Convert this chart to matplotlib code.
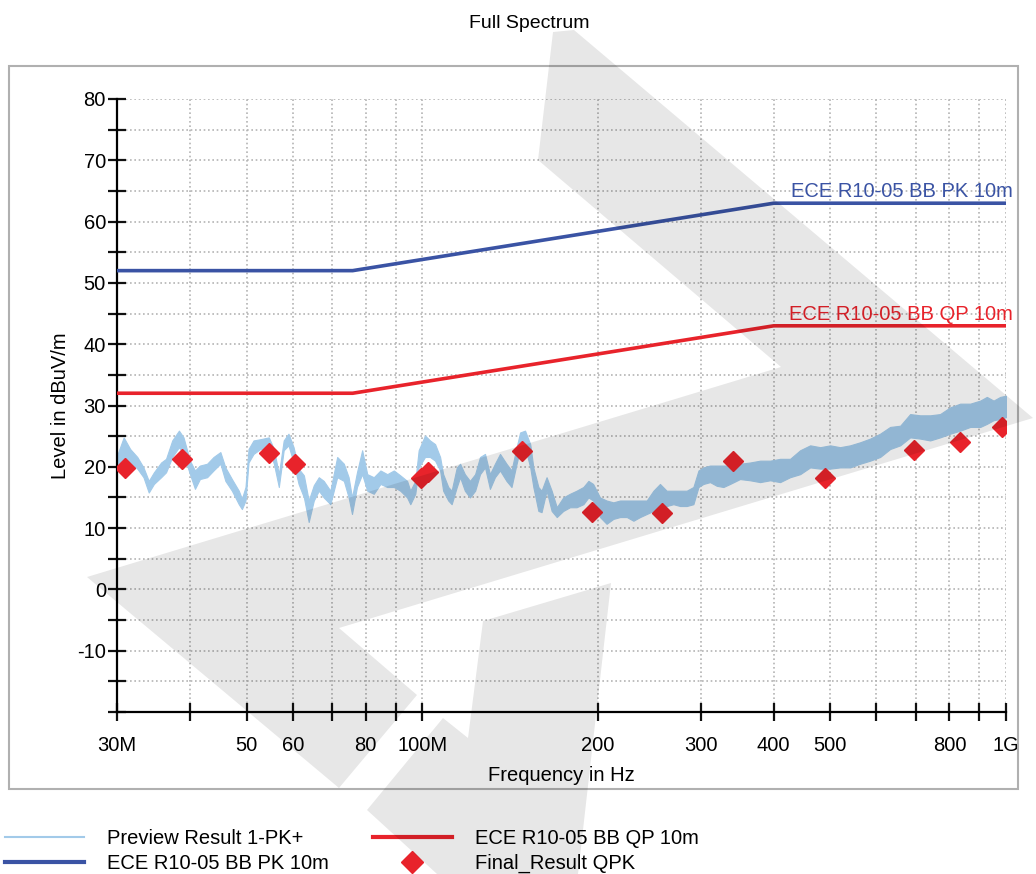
import matplotlib
matplotlib.use("Agg")
import matplotlib.pyplot as plt
from matplotlib.patches import Polygon, Rectangle
from matplotlib.lines import Line2D
from matplotlib.ticker import FixedLocator, NullLocator

plt.rcParams['font.family'] = ['Liberation Sans', 'DejaVu Sans']

# preview trace (PK+), envelope: MHz, dBuV/m
freq = [30.0, 30.8, 31.6, 32.5, 33.3, 34.0, 34.7, 35.7, 36.4, 37.3, 38.3, 39.0,
        40.0, 40.8, 41.6, 42.8, 43.9, 45.1, 46.0, 47.2, 48.5, 49.1, 49.8, 50.4,
        51.4, 52.8, 54.6, 55.7, 56.8, 57.9, 59.0, 60.2, 61.4, 62.7, 63.9, 65.2,
        66.5, 67.8, 69.6, 71.5, 73.4, 74.8, 75.8, 77.3, 78.9, 80.5, 82.6, 84.8,
        87.1, 89.4, 91.7, 94.2, 95.4, 97.3, 98.6,
        101.1, 103.1, 105.2, 107.3, 108.6, 110.8, 112.3, 114.6, 116.1, 118.3,
        120.7, 123.2, 125.6, 128.1, 130.6, 133.2, 135.9, 139.4, 142.2, 145.1,
        147.1, 150.0, 153.1, 155.0, 158.1, 160.1, 163.3, 166.6, 170.0, 174.4,
        179.1, 183.8, 188.8, 192.6, 196.2, 201.6, 206.9, 212.5, 218.2, 224.1,
        230.0, 236.1, 242.4, 248.9, 255.4, 262.2, 269.3, 276.5, 283.8, 291.4,
        297.3, 303.1, 311.2, 319.5, 328.0, 336.7, 350.2,
        364.4, 379.1, 394.3, 410.2, 426.7, 444.0, 461.9, 480.5, 499.7, 519.7,
        540.7, 562.5, 585.2, 608.6, 633.1, 658.8, 685.2, 712.7, 741.4, 771.1,
        802.4, 834.8, 868.3, 903.3, 927.2, 952.1, 977.5, 1000.0]
level_hi = [21.8, 24.8, 22.9, 21.6, 19.9, 17.7, 19.1, 20.7, 21.3, 24.3, 25.9, 24.8,
            21.0, 19.4, 20.2, 20.5, 21.6, 22.4, 19.9, 18.0, 16.1, 14.8, 16.7, 22.9,
            24.3, 24.5, 24.8, 22.9, 18.8, 24.3, 25.4, 23.2, 19.7, 18.6, 14.5, 17.0,
            18.3, 17.7, 16.1, 21.6, 20.5, 18.3, 15.0, 19.1, 22.7, 18.8, 18.3, 19.4,
            18.8, 19.4, 18.6, 17.7, 16.1, 17.7, 22.7,
            25.1, 24.3, 23.7, 21.6, 18.8, 16.7, 16.1, 19.9, 20.5, 18.8,
            17.7, 18.8, 21.6, 22.1, 18.8, 20.5, 22.1, 20.5, 19.4, 23.2,
            25.6, 25.9, 23.7, 19.9, 16.7, 16.1, 18.3, 16.1, 13.4, 15.0,
            15.6, 16.1, 16.7, 17.7, 17.2, 15.0, 14.5, 14.2, 14.5, 14.5,
            14.5, 14.5, 14.5, 16.1, 17.2, 16.1, 16.1, 16.1, 16.1, 16.7,
            19.4, 19.9, 20.2, 20.2, 20.2, 20.2, 20.5,
            20.7, 21.0, 21.0, 21.3, 21.3, 22.7, 23.5, 23.2, 23.5, 23.2,
            23.5, 24.0, 24.6, 25.4, 26.5, 26.7, 28.6, 28.4, 28.4, 28.6,
            29.7, 30.3, 30.3, 30.8, 31.4, 30.8, 31.4, 31.6]
level_lo = [19.4, 21.0, 20.7, 19.7, 18.3, 15.8, 17.2, 18.3, 19.1, 21.6, 23.2, 22.1,
            18.8, 16.4, 18.0, 18.3, 19.4, 20.5, 17.7, 16.1, 13.9, 13.1, 14.5, 20.7,
            22.1, 22.9, 22.9, 20.5, 16.7, 22.7, 23.5, 20.7, 17.2, 15.0, 11.0, 14.5,
            16.1, 15.0, 13.9, 18.3, 17.7, 15.0, 12.3, 16.7, 18.8, 16.1, 15.6, 17.2,
            16.7, 16.7, 16.1, 15.0, 13.9, 15.6, 19.9,
            21.6, 21.6, 21.0, 19.4, 16.1, 14.5, 13.9, 16.7, 18.3, 16.1,
            15.0, 16.1, 18.8, 19.9, 16.4, 18.3, 19.4, 17.7, 16.7, 20.5,
            22.9, 23.2, 19.9, 16.7, 12.8, 12.6, 16.1, 12.8, 11.8, 12.8,
            13.4, 13.4, 13.9, 15.0, 14.5, 11.8, 10.7, 11.5, 11.8, 11.8,
            11.2, 11.8, 12.3, 12.8, 13.9, 13.6, 13.9, 13.6, 13.6, 13.9,
            16.7, 17.2, 17.5, 16.9, 16.7, 17.2, 18.0,
            17.8, 17.5, 17.8, 17.5, 18.3, 18.8, 19.9, 19.7, 19.7, 19.9,
            19.9, 20.5, 21.0, 21.6, 22.9, 23.5, 24.8, 24.6, 24.3, 24.8,
            25.4, 25.9, 26.5, 26.5, 27.0, 27.6, 27.8, 28.1]

# ECE R10-05 broadband limits, 10 m
lim_freq = [30, 76, 400, 1000]
lim_pk = [52, 52, 63, 63]
lim_qp = [32, 32, 43, 43]

# final quasi-peak results
qpk_freq = [31.0, 38.8, 54.6, 60.5, 99.5, 102.3, 148.4, 195.0, 257.7, 341.0,
            490.0, 697.0, 834.0, 985.0]
qpk_level = [19.8, 21.3, 22.2, 20.4, 18.1, 19.2, 22.5, 12.7, 12.4, 21.0,
             18.2, 22.8, 24.1, 26.5]

xtick_vals = [30, 40, 50, 60, 70, 80, 90, 100, 200, 300, 400, 500, 600, 700, 800, 900, 1000]
xtick_labels = ['30M', '', '50', '60', '', '80', '', '100M', '200', '300', '400', '500',
                '', '', '800', '', '1G']
ytick_vals = [-20, -10, 0, 10, 20, 30, 40, 50, 60, 70, 80]
ytick_labels = ['', '-10', '0', '10', '20', '30', '40', '50', '60', '70', '80']

c_prev = '#a2cae9'
c_pk = '#3a53a4'
c_qp = '#e8232b'
fs = 14.5

W, H = 1036, 874
fig = plt.figure(figsize=(W / 100, H / 100), dpi=100)
ax = fig.add_axes([117 / W, 1 - 712 / H, (1006 - 117) / W, (712 - 99) / H])

ax.fill_between(freq, level_lo, level_hi, color=c_prev, lw=0.8, edgecolor=c_prev, zorder=2)
ax.plot(lim_freq, lim_pk, color=c_pk, lw=2.6, zorder=3)
ax.plot(lim_freq, lim_qp, color=c_qp, lw=2.6, zorder=3)
ax.plot(qpk_freq, qpk_level, ls='none', marker='D', ms=10, color=c_qp, zorder=4)

ax.annotate('ECE R10-05 BB PK 10m', xy=(1000, 63), xytext=(7, 2), textcoords='offset pixels',
            ha='right', va='bottom', color=c_pk, fontsize=fs)
ax.annotate('ECE R10-05 BB QP 10m', xy=(1000, 43), xytext=(7, 2), textcoords='offset pixels',
            ha='right', va='bottom', color=c_qp, fontsize=fs)

ax.set_xscale('log')
ax.set_xlim(30, 1000)
ax.set_ylim(-20, 80)
ax.xaxis.set_major_locator(FixedLocator(xtick_vals))
ax.xaxis.set_minor_locator(NullLocator())
ax.set_xticklabels(xtick_labels)
ax.set_yticks(ytick_vals)
ax.set_yticklabels(ytick_labels)
ax.yaxis.set_minor_locator(FixedLocator(list(range(-15, 80, 10))))

ax.grid(which='both', color='#b4b4b4', linestyle=(0, (1, 1.6)), linewidth=1.2, zorder=0)
ax.set_axisbelow(True)
for s in ['top', 'right']:
    ax.spines[s].set_visible(False)
for s in ['left', 'bottom']:
    ax.spines[s].set_linewidth(1.6)
ax.tick_params(which='both', direction='inout', length=13, width=1.6, labelsize=fs, color='#111111')
ax.tick_params(axis='x', pad=11)
ax.tick_params(axis='y', pad=1.5)

ax.set_xlabel('Frequency in Hz', fontsize=fs, labelpad=8)
ax.set_ylabel('Level in dBuV/m', fontsize=fs, labelpad=5)

fig.text(529 / W, 1 - 23 / H, 'Full Spectrum', ha='center', va='center', fontsize=14)

# outer frame
fig.patches.append(Rectangle((9 / W, 1 - 789 / H), (1018 - 9) / W, (789 - 66) / H,
                             transform=fig.transFigure, fill=False, edgecolor='#b0b0b0',
                             lw=1.5, zorder=0))

# legend below the frame, two columns
h_prev = Line2D([], [], color=c_prev, lw=1.5)
h_pk = Line2D([], [], color=c_pk, lw=3)
h_qp = Line2D([], [], color=c_qp, lw=3)
h_fin = Line2D([], [], color=c_qp, marker='D', ls='none', ms=11)
leg_kw = dict(loc='upper left', frameon=False, fontsize=fs, borderpad=0, borderaxespad=0,
              handlelength=3.9, handletextpad=1.15, labelspacing=0.3)
fig.legend([h_prev, h_pk], ['Preview Result 1-PK+', 'ECE R10-05 BB PK 10m'],
           bbox_to_anchor=(5 / W, 1 - 829 / H), **leg_kw)
fig.legend([h_qp, h_fin], ['ECE R10-05 BB QP 10m', 'Final_Result QPK'],
           bbox_to_anchor=(373 / W, 1 - 829 / H), **leg_kw)

# grey watermark laid over the chart
wm_a = [(553, 32), (574, 30), (1033, 418), (339, 628), (417, 695), (339, 788),
        (87, 577), (781, 367), (538, 160)]
wm_b = [(483, 621), (611, 583), (578, 874), (437, 874), (367, 810), (443, 718), (468, 738)]
for shape in [wm_a, wm_b]:
    pts = [(x / W, 1 - y / H) for x, y in shape]
    fig.patches.append(Polygon(pts, closed=True, transform=fig.transFigure,
                               facecolor='black', edgecolor='none', alpha=0.095, zorder=10))

fig.savefig('out.png', dpi=100)
